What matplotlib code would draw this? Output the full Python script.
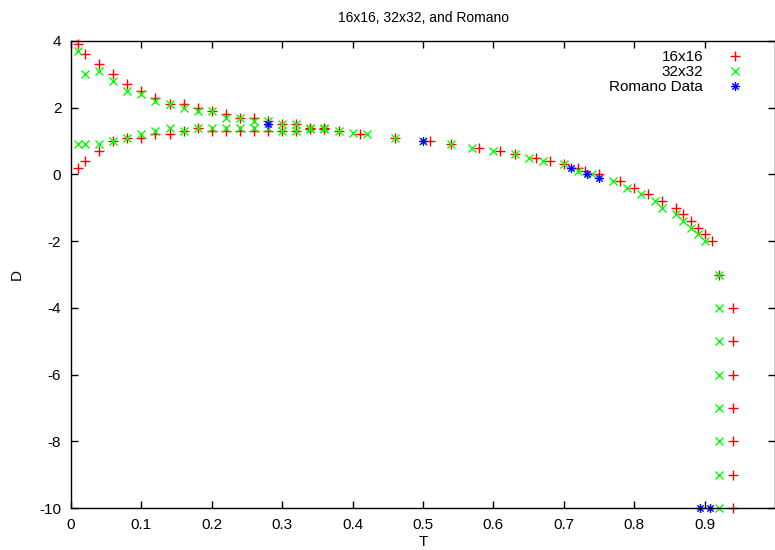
import matplotlib
matplotlib.use("Agg")
import matplotlib.pyplot as plt
from matplotlib.path import Path

plt.rcParams['font.family'] = ['Liberation Sans', 'DejaVu Sans']
plt.rcParams['axes.unicode_minus'] = False

# 16x16 data
t16 = [0.01, 0.02, 0.04, 0.06, 0.08, 0.10, 0.12, 0.14, 0.16, 0.18, 0.20, 0.22, 0.24, 0.26, 0.28, 0.30, 0.32, 0.34, 0.36,
       0.01, 0.02, 0.04, 0.06, 0.08, 0.10, 0.12, 0.14, 0.16, 0.18, 0.20, 0.22, 0.24, 0.26, 0.28, 0.30, 0.32, 0.34, 0.36,
       0.38, 0.41, 0.46, 0.51, 0.54, 0.58, 0.61, 0.63, 0.66, 0.68, 0.70, 0.72, 0.73, 0.75, 0.78, 0.80, 0.82, 0.84,
       0.86, 0.87, 0.88, 0.89, 0.90, 0.91, 0.92, 0.94, 0.94, 0.94, 0.94, 0.94, 0.94, 0.94]
d16 = [3.9, 3.6, 3.3, 3.0, 2.7, 2.5, 2.3, 2.1, 2.1, 2.0, 1.9, 1.8, 1.7, 1.7, 1.6, 1.5, 1.5, 1.4, 1.4,
       0.2, 0.4, 0.7, 1.0, 1.1, 1.1, 1.2, 1.2, 1.3, 1.4, 1.3, 1.3, 1.3, 1.3, 1.3, 1.3, 1.3, 1.35, 1.35,
       1.3, 1.2, 1.1, 1.0, 0.9, 0.8, 0.7, 0.6, 0.5, 0.4, 0.3, 0.2, 0.1, 0.0, -0.2, -0.4, -0.6, -0.8,
       -1.0, -1.2, -1.4, -1.6, -1.8, -2.0, -3.0, -4.0, -5.0, -6.0, -7.0, -8.0, -9.0, -10.0]

# 32x32 data
t32 = [0.01, 0.02, 0.04, 0.06, 0.08, 0.10, 0.12, 0.14, 0.16, 0.18, 0.20, 0.22, 0.24, 0.26, 0.28, 0.30, 0.32, 0.34, 0.36,
       0.01, 0.02, 0.04, 0.06, 0.08, 0.10, 0.12, 0.14, 0.16, 0.18, 0.20, 0.22, 0.24, 0.26, 0.28, 0.30, 0.32, 0.34, 0.36,
       0.38, 0.40, 0.42, 0.46, 0.50, 0.54, 0.57, 0.60, 0.63, 0.65, 0.67, 0.70, 0.72, 0.74, 0.77, 0.79, 0.81, 0.83,
       0.84, 0.86, 0.87, 0.88, 0.89, 0.90, 0.92, 0.92, 0.92, 0.92, 0.92, 0.92, 0.92, 0.92]
d32 = [3.7, 3.0, 3.1, 2.8, 2.5, 2.4, 2.2, 2.1, 2.0, 1.9, 1.9, 1.7, 1.7, 1.6, 1.6, 1.5, 1.5, 1.4, 1.4,
       0.9, 0.9, 0.9, 1.0, 1.1, 1.2, 1.3, 1.4, 1.3, 1.4, 1.4, 1.4, 1.4, 1.4, 1.4, 1.3, 1.3, 1.35, 1.35,
       1.3, 1.25, 1.2, 1.1, 1.0, 0.9, 0.8, 0.7, 0.6, 0.5, 0.4, 0.3, 0.1, 0.0, -0.2, -0.4, -0.6, -0.8,
       -1.0, -1.2, -1.4, -1.6, -1.8, -2.0, -3.0, -4.0, -5.0, -6.0, -7.0, -8.0, -9.0, -10.0]

# Romano data
tr = [0.28, 0.50, 0.71, 0.733, 0.75, 0.893, 0.907]
dr = [1.5, 1.0, 0.2, 0.0, -0.1, -10.0, -10.0]

xticks = [0.0, 0.1, 0.2, 0.3, 0.4, 0.5, 0.6, 0.7, 0.8, 0.9]
xticklabels = ['0', '0.1', '0.2', '0.3', '0.4', '0.5', '0.6', '0.7', '0.8', '0.9']
yticks = [4, 2, 0, -2, -4, -6, -8, -10]

# star marker (+ and x combined) like gnuplot pt 3
star = Path([(-1, 0), (1, 0), (0, -1), (0, 1), (-0.7, -0.7), (0.7, 0.7), (-0.7, 0.7), (0.7, -0.7)],
            [Path.MOVETO, Path.LINETO] * 4)

W, H = 775, 550
fig = plt.figure(figsize=(7.75, 5.5), dpi=100)
ax = fig.add_axes([71 / W, 1 - 508 / H, 1 - 71 / W, (508 - 41) / H])

ax.plot(t16, d16, linestyle='none', marker='+', color='#ff0000', markersize=6.5, markeredgewidth=1.0, label='16x16', clip_on=False)
ax.plot(t32, d32, linestyle='none', marker='x', color='#00ff00', markersize=5.5, markeredgewidth=1.0, label='32x32', clip_on=False)
ax.plot(tr, dr, linestyle='none', marker=star, color='#0000ff', markerfacecolor='none', markersize=6.5, markeredgewidth=1.0, label='Romano Data', clip_on=False)

ax.set_xlim(0, 1.0)
ax.set_ylim(-10, 4)
ax.set_xticks(xticks)
ax.set_xticklabels(xticklabels)
ax.set_yticks(yticks)
ax.tick_params(direction='in', length=5, width=1, top=True, right=True, labelsize=11, pad=7, colors='black')
for s in ax.spines.values():
    s.set_linewidth(1.0)
    s.set_color('black')

ax.set_title('16x16, 32x32, and Romano', fontsize=10, pad=14)
ax.set_xlabel('T', fontsize=11, va='top')
ax.xaxis.set_label_coords(0.5, (508 - 535) / 467)
ax.set_ylabel('D', fontsize=11, va='center')
ax.yaxis.set_label_coords(-(71 - 17) / 704, 0.5)

ax.legend(loc='upper right', bbox_to_anchor=(743 / W, 1 - 50 / H), bbox_transform=fig.transFigure,
          frameon=False, markerfirst=False, fontsize=11, handlelength=1.0, handletextpad=1.6,
          labelspacing=0.08, borderaxespad=0, borderpad=0)

fig.savefig('out.png', dpi=100)
